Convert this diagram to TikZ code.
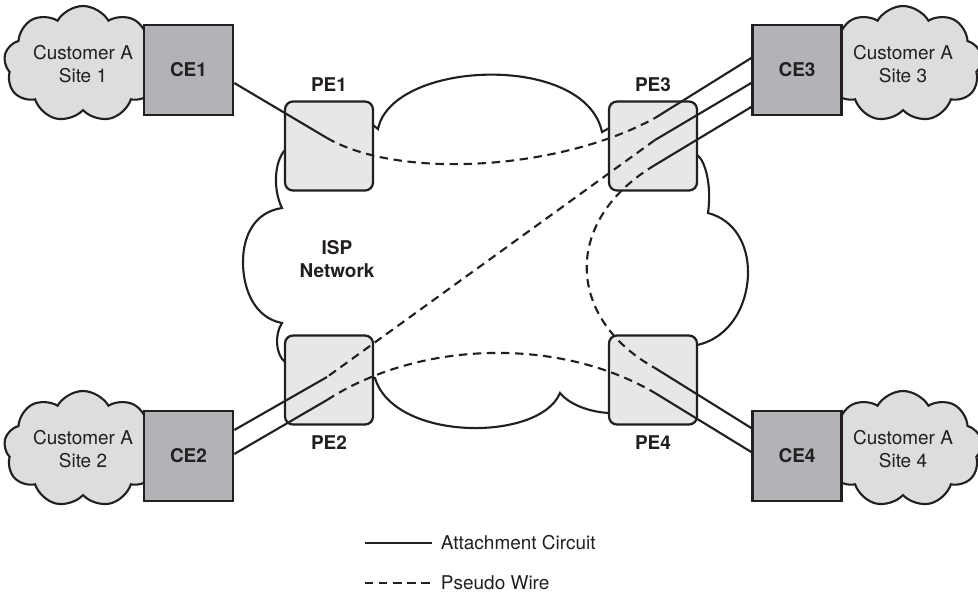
\documentclass[tikz,border=0pt]{standalone}
\usepackage{fontspec}
\setmainfont{TeX Gyre Heros}
\usetikzlibrary{positioning,calc,shapes.symbols}

\definecolor{linecol}{HTML}{231F20}
\definecolor{cefill}{HTML}{B1B3B6}
\definecolor{sitefill}{HTML}{DCDDDE}
\definecolor{pefill}{HTML}{E6E7E8}

\begin{document}
\begin{tikzpicture}[
    x=0.25mm, y=0.25mm,
    every node/.style={font=\fontsize{13.5}{16}\selectfont, text=linecol},
    site/.style={cloud, cloud puffs=9, cloud puff arc=120, cloud ignores aspect, draw=linecol, fill=sitefill, line width=1.5pt, minimum width=34mm, minimum height=29mm, align=center},
    cebox/.style={draw=linecol, fill=cefill, line width=1.8pt, minimum width=22.25mm, minimum height=22.5mm, font=\fontsize{13.5}{16}\selectfont\bfseries},
    pebox/.style={draw=linecol, fill=pefill, rounded corners=2mm, line width=1.6pt, minimum width=22mm, minimum height=22.25mm},
    pelabel/.style={font=\fontsize{13.5}{16}\selectfont\bfseries},
    ac/.style={draw=linecol, line width=1.5pt},
    pw/.style={draw=linecol, line width=1.5pt, dash pattern=on 6pt off 4pt}
]
\useasboundingbox (0,0) rectangle (978,-594);

% customer sites
\node[site] (site1) at (83,-64) {Customer A\\Site 1};
\node[site] (site3) at (903,-64) {Customer A\\Site 3};
\node[site] (site2) at (83,-449) {Customer A\\Site 2};
\node[site] (site4) at (903,-449) {Customer A\\Site 4};

\node[cebox] (ce1) at (188.5,-70) {CE1};
\node[cebox] (ce3) at (797,-70) {CE3};
\node[cebox] (ce2) at (188.5,-456) {CE2};
\node[cebox] (ce4) at (797,-456) {CE4};

% ISP network
\draw[draw=linecol, line width=1.5pt, fill=white]
    (378,-129) .. controls (392,-60) and (585,-52) .. (602,-132)
    -- (615,-125) -- (690,-160) -- (697,-155)
    .. controls (705,-160) and (712,-185) .. (708,-213)
    .. controls (735,-220) and (748,-245) .. (748,-272)
    .. controls (748,-305) and (730,-338) .. (697,-345)
    -- (650,-380) -- (609,-413)
    .. controls (590,-412) and (570,-405) .. (560,-393)
    .. controls (540,-442) and (394,-442) .. (375,-378)
    -- (330,-370) -- (285,-362)
    .. controls (276,-355) and (274,-335) .. (282,-323)
    .. controls (255,-318) and (243,-290) .. (243,-262)
    .. controls (243,-235) and (255,-212) .. (282,-208)
    .. controls (273,-190) and (274,-162) .. (285,-150)
    -- (330,-140) -- (373,-125) -- cycle;
\node[pelabel, align=center] (isp) at (337,-259) {ISP\\Network};

\node[pebox] (pe1) at (329,-146) {};
\node[pebox] (pe3) at (653,-146) {};
\node[pebox] (pe2) at (329,-380) {};
\node[pebox] (pe4) at (653,-380) {};
\node[pelabel, above=1mm of pe1] (pe1lab) {PE1};
\node[pelabel, above=1mm of pe3] (pe3lab) {PE3};
\node[pelabel, below=1.2mm of pe2] (pe2lab) {PE2};
\node[pelabel, below=1.2mm of pe4] (pe4lab) {PE4};

% where attachment circuits meet pseudo wires
\coordinate (j1) at (327,-138);
\coordinate (j3a) at (655,-118);
\coordinate (j3b) at (655,-140);
\coordinate (j3c) at (655,-165);
\coordinate (j2a) at (327,-377);
\coordinate (j2b) at (327,-400);
\coordinate (j4a) at (655,-368);
\coordinate (j4b) at (655,-393);

% attachment circuits
\draw[ac] ($(ce1.east)+(0,-13)$) -- (j1);
\draw[ac] ($(ce3.west)+(0,12)$) -- (j3a);
\draw[ac] ($(ce3.west)+(0,-13)$) -- (j3b);
\draw[ac] ($(ce3.west)+(0,-37)$) -- (j3c);
\draw[ac] ($(ce2.east)+(0,26)$) -- (j2a);
\draw[ac] ($(ce2.east)+(0,2)$) -- (j2b);
\draw[ac] ($(ce4.west)+(0,28)$) -- (j4a);
\draw[ac] ($(ce4.west)+(0,4)$) -- (j4b);

% pseudo wires
\draw[pw] (j1) .. controls (400,-180) and (560,-170) .. (j3a);
\draw[pw] (j3b) -- (j2a);
\draw[pw] (j3c) .. controls (560,-222) and (568,-320) .. (j4a);
\draw[pw] (j2b) .. controls (420,-340) and (560,-337) .. (j4b);

% legend
\coordinate (acA) at (365,-543);
\coordinate (acB) at (432,-543);
\coordinate (pwA) at (365,-583);
\coordinate (pwB) at (432,-583);
\draw[ac] (acA) -- (acB);
\draw[pw] (pwA) -- (pwB);
\node[right=1mm of acB] (actext) {Attachment Circuit};
\node[right=1mm of pwB] (pwtext) {Pseudo Wire};
\end{tikzpicture}
\end{document}
